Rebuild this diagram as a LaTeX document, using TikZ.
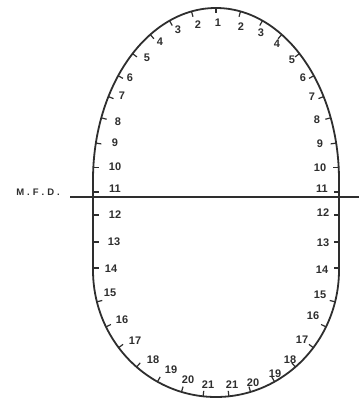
\documentclass[tikz,border=0pt]{standalone}
\usepackage{fontspec}
\setmainfont{Liberation Sans}
\definecolor{ink}{HTML}{2E2E2E}
\newcommand\topTick[1]{\draw[tick,shift={(216,218)}] (#1:123pt and 172pt) -- ++({atan2(sin(#1)/172,cos(#1)/123)+180}:5.5pt);}
\newcommand\botTick[1]{\draw[tick,shift={(216,128)}] (#1:123pt and 127pt) -- ++({atan2(sin(#1)/127,cos(#1)/123)+180}:5.5pt);}
\begin{document}
\begin{tikzpicture}[x=1pt,y=1pt,
  outline/.style={line width=1.8pt, draw=ink},
  tick/.style={line width=1.2pt, draw=ink},
  num/.style={font=\bfseries\fontsize{11}{11}\selectfont, text=ink, inner sep=0pt},
  mfd/.style={font=\bfseries\fontsize{9.5}{9.5}\selectfont, text=ink, inner sep=0pt},
  mfdline/.style={line width=1.3pt, draw=ink}]
\useasboundingbox (0,0) rectangle (359,398);
% outline
\draw[outline] (216,390)
  arc[start angle=90,end angle=180,x radius=123pt,y radius=172pt] -- (93,128)
  arc[start angle=180,end angle=360,x radius=123pt,y radius=127pt] -- (339,218)
  arc[start angle=0,end angle=90,x radius=123pt,y radius=172pt] -- cycle;
% ticks, upper part
\topTick{90}
\foreach \t in {78.5,67.8,57.7,47.3,37.3,29,21.2,12.4,4.3}{\topTick{\t}\topTick{180-\t}}
% ticks, straight part
\foreach \Y in {206,183,156,130}{
  \draw[tick] (93,\Y) -- ++(5.5,0);
  \draw[tick] (339,\Y) -- ++(-5.5,0);}
% ticks, lower part
\foreach \p in {14.5,26.6,37.7,49.8,61.6,73.7,84}{\botTick{-\p}\botTick{180+\p}}
% labels, left
\foreach \x/\y/\n in {218/375/1,198/373/2,178/368/3,160/356/4,147/340/5,130/320/6,122/302/7,118/276/8,115/255/9,115/231/10,115/209/11,115/183/12,114/156/13,111/129/14,110/105/15,122/78/16,135/57/17,153/38/18,171/28/19,188/18/20,208/13/21}
  \node[num] (L\n) at (\x,\y) {\n};
% labels, right
\foreach \x/\y/\n in {241/371/2,261/365/3,277/354/4,292/338/5,303/320/6,312/301/7,317/278/8,320/254/9,320/230/10,322/209/11,323/185/12,323/155/13,322/128/14,320/103/15,313/82/16,302/58/17,290/38/18,275/24/19,253/15/20,232/13/21}
  \node[num] (R\n) at (\x,\y) {\n};
% M.F.D. line
\node[mfd] (mfd) at (38,206) {M\kern3pt.\kern3pt F\kern3pt.\kern3pt D\kern3pt.};
\coordinate (ml) at (70,201);
\coordinate (mr) at (359,201);
\draw[mfdline] (ml) -- (mr);
\end{tikzpicture}
\end{document}
